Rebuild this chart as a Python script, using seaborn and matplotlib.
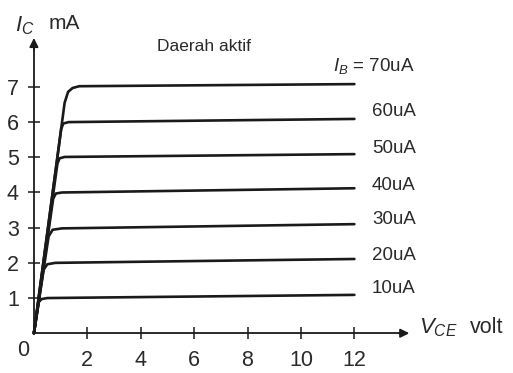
import matplotlib
matplotlib.use("Agg")
import matplotlib.pyplot as plt
import numpy as np
import pandas as pd
import seaborn as sns

# ---- data ----
ib_labels = ["10uA", "20uA", "30uA", "40uA", "50uA", "60uA", "70uA"]

vce_10 = [0, 0.18, 0.28, 0.50, 12]
ic_10 = [0, 0.88, 0.97, 1.00, 1.09]
vce_20 = [0, 0.36, 0.50, 0.80, 12]
ic_20 = [0, 1.80, 1.96, 2.00, 2.11]
vce_30 = [0, 0.55, 0.70, 1.05, 12]
ic_30 = [0, 2.75, 2.94, 2.98, 3.10]
vce_40 = [0, 0.72, 0.82, 1.05, 12]
ic_40 = [0, 3.82, 3.97, 4.00, 4.12]
vce_50 = [0, 0.88, 0.96, 1.15, 12]
ic_50 = [0, 4.82, 4.97, 5.01, 5.09]
vce_60 = [0, 1.02, 1.10, 1.30, 12]
ic_60 = [0, 5.80, 5.96, 6.00, 6.09]
vce_70 = [0, 1.15, 1.28, 1.45, 1.70, 12]
ic_70 = [0, 6.55, 6.86, 6.97, 7.02, 7.08]

curves = {
    "10uA": (vce_10, ic_10), "20uA": (vce_20, ic_20), "30uA": (vce_30, ic_30),
    "40uA": (vce_40, ic_40), "50uA": (vce_50, ic_50), "60uA": (vce_60, ic_60),
    "70uA": (vce_70, ic_70),
}

x_ticks = [2, 4, 6, 8, 10, 12]
y_ticks = [1, 2, 3, 4, 5, 6, 7]

label_texts = ["10uA", "20uA", "30uA", "40uA", "50uA", "60uA", r"$I_B$ = 70uA"]
label_y = [1.28, 2.22, 3.22, 4.21, 5.24, 6.29, 7.60]

rows = []
for ib in ib_labels:
    v, i = curves[ib]
    for a, b in zip(v, i):
        rows.append({"IB": ib, "VCE": a, "IC": b})
df = pd.DataFrame(rows)

# ---- styling ----
sns.set_theme(style="white")
plt.rcParams["font.family"] = ["Liberation Sans", "DejaVu Sans"]
plt.rcParams["mathtext.fontset"] = "custom"
plt.rcParams["mathtext.rm"] = "Liberation Sans"
plt.rcParams["mathtext.it"] = "Liberation Sans:italic"

ink = "#1a1a1a"
txt = "#2a2a2a"

fig = plt.figure(figsize=(5.13, 3.73), dpi=100)
ax = fig.add_axes([0, 0, 1, 1])

sns.lineplot(data=df, x="VCE", y="IC", hue="IB", hue_order=ib_labels,
             palette=[ink] * len(ib_labels), estimator=None, sort=False,
             legend=False, linewidth=1.9, ax=ax)

ax.set_xlim(-1.27, 17.94)
ax.set_ylim(-1.13, 9.47)
ax.set_xlabel("")
ax.set_ylabel("")

x_end, y_end = 14.16, 8.47
for s in ["top", "right"]:
    ax.spines[s].set_visible(False)
ax.spines["left"].set_position(("data", 0))
ax.spines["bottom"].set_position(("data", 0))
ax.spines["left"].set_bounds(0, y_end - 0.2)
ax.spines["bottom"].set_bounds(0, x_end - 0.3)
for s in ["left", "bottom"]:
    ax.spines[s].set_color(ink)
    ax.spines[s].set_linewidth(1.3)

ax.annotate("", xy=(x_end, 0), xytext=(x_end - 0.6, 0),
            arrowprops=dict(arrowstyle="-|>", color=ink, lw=1.3, mutation_scale=13))
ax.annotate("", xy=(0, y_end), xytext=(0, y_end - 0.5),
            arrowprops=dict(arrowstyle="-|>", color=ink, lw=1.3, mutation_scale=13))

ax.set_xticks(x_ticks)
ax.set_yticks(y_ticks)
ax.set_xticklabels([str(t) for t in x_ticks])
ax.set_yticklabels([str(t) for t in y_ticks])
ax.tick_params(axis="x", direction="inout", length=8, width=1.1, pad=8,
               labelsize=15.5, color=ink, labelcolor=txt, bottom=True)
ax.tick_params(axis="y", direction="inout", length=8.5, width=1.1, pad=6.5,
               labelsize=15.5, color=ink, labelcolor=txt, left=True)

ax.text(-0.42, -0.48, "0", fontsize=15.5, color=txt, ha="center", va="center")

for t, y in zip(label_texts, label_y):
    x = 11.2 if t.startswith("$") else 12.66
    ax.text(x, y, t, fontsize=13.5, color=txt, ha="left", va="center")

ax.text(6.37, 8.16, "Daerah aktif", fontsize=12.5, color=txt, ha="center", va="center")
ax.text(-0.72, 8.58, r"$I_C$", fontsize=16, color=txt, ha="left", va="baseline")
ax.text(1.12, 8.81, "mA", fontsize=15, color=txt, ha="center", va="center")
ax.text(14.42, 0.15, r"$V_{CE}$", fontsize=16, color=txt, ha="left", va="center")
ax.text(16.95, 0.17, "volt", fontsize=15.5, color=txt, ha="center", va="center")

fig.savefig("out.png", dpi=100, facecolor="white")
